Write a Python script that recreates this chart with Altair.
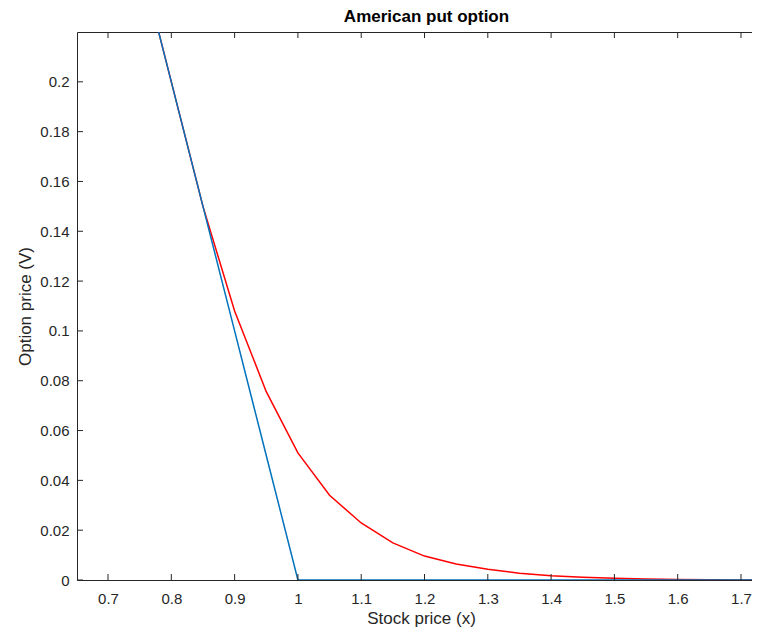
import altair as alt
import pandas as pd

# Data
x_grid = [0.60, 0.65, 0.70, 0.75, 0.80, 0.85, 0.90, 0.95, 1.00, 1.05, 1.10, 1.15,
          1.20, 1.25, 1.30, 1.35, 1.40, 1.45, 1.50, 1.55, 1.60, 1.65, 1.70, 1.75]
option_value = [0.40, 0.35, 0.30, 0.25, 0.20, 0.15, 0.108, 0.0756, 0.051, 0.034, 0.0229, 0.0149,
                0.0096, 0.0064, 0.0043, 0.0027, 0.0017, 0.0011, 0.0007, 0.0004, 0.0002, 0.0001,
                0.00005, 0.00002]
payoff = [0.40, 0.35, 0.30, 0.25, 0.20, 0.15, 0.10, 0.05, 0.0, 0.0, 0.0, 0.0,
          0.0, 0.0, 0.0, 0.0, 0.0, 0.0, 0.0, 0.0, 0.0, 0.0, 0.0, 0.0]
x_ticks = [0.7, 0.8, 0.9, 1.0, 1.1, 1.2, 1.3, 1.4, 1.5, 1.6, 1.7]
y_ticks = [0, 0.02, 0.04, 0.06, 0.08, 0.1, 0.12, 0.14, 0.16, 0.18, 0.2]

X_DOMAIN = [0.651, 1.7174]
Y_DOMAIN = [0, 0.22]
W, H = 675, 548
TXT = "#262626"
FONT = "Liberation Sans"

df = pd.DataFrame({"x": x_grid, "v": option_value, "p": payoff})
xt = pd.DataFrame({"t": x_ticks})
yt = pd.DataFrame({"t": y_ticks})

xscale = alt.Scale(domain=X_DOMAIN, nice=False, zero=False)
yscale = alt.Scale(domain=Y_DOMAIN, nice=False, zero=False)

x_axis = alt.Axis(values=x_ticks, format="~g", ticks=False, tickSize=0, grid=False,
                  labelPadding=11, labelFontSize=15, labelColor=TXT, labelFont=FONT,
                  domainColor=TXT, domainWidth=1,
                  title="Stock price (x)", titleFontSize=17, titleFontWeight="normal",
                  titleColor=TXT, titleFont=FONT, titleX=344, titleY=43,
                  titleBaseline="alphabetic", titleAnchor="middle")
y_axis = alt.Axis(values=y_ticks, format="~g", ticks=False, tickSize=0, grid=False,
                  labelPadding=8, labelFontSize=15, labelColor=TXT, labelFont=FONT,
                  domainColor=TXT, domainWidth=1,
                  title="Option price (V)", titleFontSize=17, titleFontWeight="normal",
                  titleColor=TXT, titleFont=FONT, titleX=-47, titleY=H / 2,
                  titleBaseline="alphabetic", titleAngle=270, titleAnchor="middle")

red = alt.Chart(df).mark_line(color="#FF0000", strokeWidth=1.5, clip=True).encode(
    x=alt.X("x:Q", scale=xscale, axis=x_axis),
    y=alt.Y("v:Q", scale=yscale, axis=y_axis),
)
blue = alt.Chart(df).mark_line(color="#0072BD", strokeWidth=1.5, clip=True).encode(
    x=alt.X("x:Q", scale=xscale, axis=None),
    y=alt.Y("p:Q", scale=yscale, axis=None),
)
top_ticks = alt.Chart(xt).mark_rule(color=TXT, strokeWidth=1).encode(
    x=alt.X("t:Q", scale=xscale,
            axis=alt.Axis(orient="top", labels=False, ticks=False, title=None, grid=False,
                          domainColor=TXT, domainWidth=1)),
    y=alt.value(0), y2=alt.value(6),
)
bottom_ticks = alt.Chart(xt).mark_rule(color=TXT, strokeWidth=1).encode(
    x=alt.X("t:Q", scale=xscale, axis=None),
    y=alt.value(H), y2=alt.value(H - 6),
)
left_ticks = alt.Chart(yt).mark_rule(color=TXT, strokeWidth=1).encode(
    y=alt.Y("t:Q", scale=yscale, axis=None),
    x=alt.value(0), x2=alt.value(6),
)

chart = alt.layer(red, blue, bottom_ticks, left_ticks, top_ticks).resolve_axis(
    x="independent", y="independent"
).properties(
    width=W, height=H,
    title=alt.TitleParams("American put option", font=FONT, fontSize=17, fontWeight="bold",
                          color="#000000", anchor="middle", dx=12, dy=16, offset=9,
                          baseline="alphabetic", frame="group"),
    autosize=alt.AutoSizeParams(type="none"),
    padding={"left": 69, "top": 24, "right": 0, "bottom": 48},
).configure_view(stroke=None).configure(background="white")

chart.save("out.html", embed_options={"renderer": "svg", "actions": False})
